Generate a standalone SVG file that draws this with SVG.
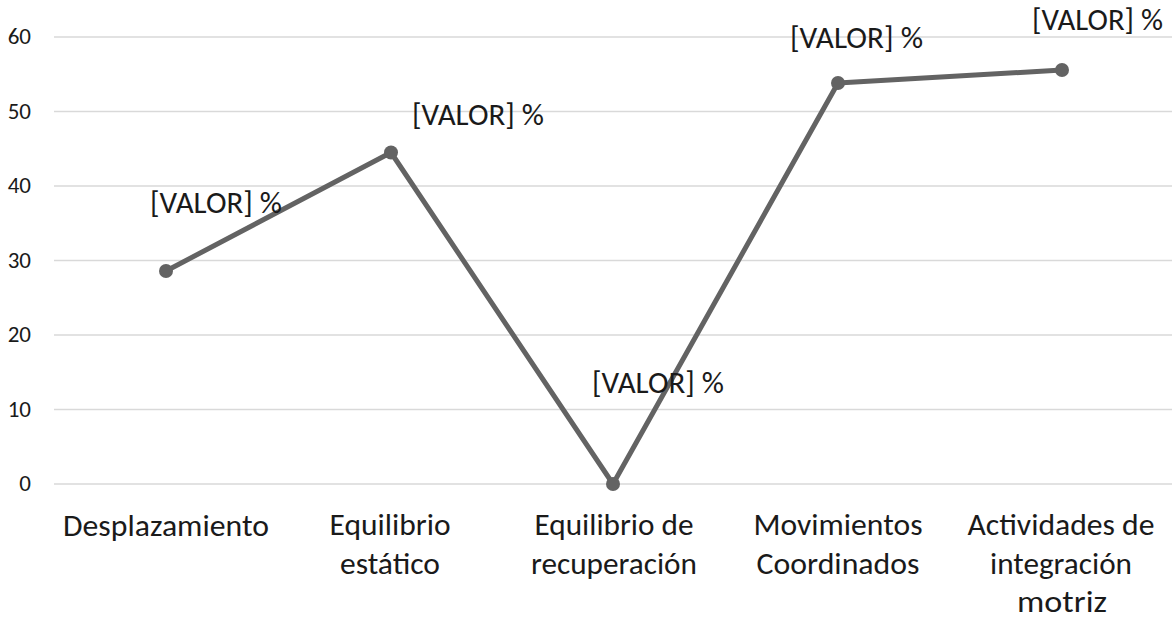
<svg xmlns="http://www.w3.org/2000/svg" width="1172" height="618" viewBox="0 0 1172 618">
<style>
.grid{stroke:#d9d9d9;stroke-width:1.5;fill:none}
.ytick{font-family:Carlito,Calibri,"Open Sans","Liberation Sans",sans-serif;font-size:23px;fill:#1a1a1a;text-anchor:end}
.cat{font-family:Carlito,Calibri,"Open Sans","Liberation Sans",sans-serif;font-size:30px;fill:#1a1a1a;text-anchor:middle}
.lbl{font-family:Carlito,Calibri,"Open Sans","Liberation Sans",sans-serif;font-size:30px;fill:#1a1a1a}
.series{stroke:#636363;stroke-width:5;fill:none;stroke-linejoin:round;stroke-linecap:round}
.pt{fill:#636363}
</style>
<rect width="1172" height="618" fill="#ffffff"/>
<g id="gridlines">
<line class="grid" x1="54" y1="37" x2="1172" y2="37"/>
<line class="grid" x1="54" y1="111.5" x2="1172" y2="111.5"/>
<line class="grid" x1="54" y1="186" x2="1172" y2="186"/>
<line class="grid" x1="54" y1="260.5" x2="1172" y2="260.5"/>
<line class="grid" x1="54" y1="335" x2="1172" y2="335"/>
<line class="grid" x1="54" y1="409.5" x2="1172" y2="409.5"/>
<line class="grid" x1="54" y1="484" x2="1172" y2="484"/>
</g>
<g id="y-axis">
<text class="ytick" x="31" y="44">60</text>
<text class="ytick" x="31" y="118.5">50</text>
<text class="ytick" x="31" y="193">40</text>
<text class="ytick" x="31" y="267.5">30</text>
<text class="ytick" x="31" y="342">20</text>
<text class="ytick" x="31" y="416.5">10</text>
<text class="ytick" x="31" y="491">0</text>
</g>
<g id="connectors">
<polyline class="series" points="166,271 391,152.5 613,484 838,83 1062,70"/>
</g>
<g id="node-desplazamiento">
<circle class="pt" cx="166" cy="271" r="7"/>
<text class="lbl" x="150" y="213" textLength="132" lengthAdjust="spacingAndGlyphs">[VALOR] %</text>
<text class="cat" x="166" y="536" textLength="206" lengthAdjust="spacingAndGlyphs">Desplazamiento</text>
</g>
<g id="node-equilibrio-estatico">
<circle class="pt" cx="391" cy="152.5" r="7"/>
<text class="lbl" x="412" y="125" textLength="132" lengthAdjust="spacingAndGlyphs">[VALOR] %</text>
<text class="cat" x="390" y="535" textLength="121" lengthAdjust="spacingAndGlyphs">Equilibrio</text>
<text class="cat" x="390" y="574" textLength="100" lengthAdjust="spacingAndGlyphs">estático</text>
</g>
<g id="node-equilibrio-recuperacion">
<circle class="pt" cx="613" cy="484" r="7"/>
<text class="lbl" x="592" y="393" textLength="132" lengthAdjust="spacingAndGlyphs">[VALOR] %</text>
<text class="cat" x="614" y="535" textLength="159" lengthAdjust="spacingAndGlyphs">Equilibrio de</text>
<text class="cat" x="614" y="574" textLength="166" lengthAdjust="spacingAndGlyphs">recuperación</text>
</g>
<g id="node-movimientos">
<circle class="pt" cx="838" cy="83" r="7"/>
<text class="lbl" x="790" y="48" textLength="133" lengthAdjust="spacingAndGlyphs">[VALOR] %</text>
<text class="cat" x="838" y="535" textLength="169" lengthAdjust="spacingAndGlyphs">Movimientos</text>
<text class="cat" x="838" y="574" textLength="163" lengthAdjust="spacingAndGlyphs">Coordinados</text>
</g>
<g id="node-actividades">
<circle class="pt" cx="1062" cy="70" r="7"/>
<text class="lbl" x="1032" y="30" textLength="131" lengthAdjust="spacingAndGlyphs">[VALOR] %</text>
<text class="cat" x="1061" y="535" textLength="187" lengthAdjust="spacingAndGlyphs">Actividades de</text>
<text class="cat" x="1061" y="574" textLength="142" lengthAdjust="spacingAndGlyphs">integración</text>
<text class="cat" x="1062" y="612" textLength="90" lengthAdjust="spacingAndGlyphs">motriz</text>
</g>
</svg>
